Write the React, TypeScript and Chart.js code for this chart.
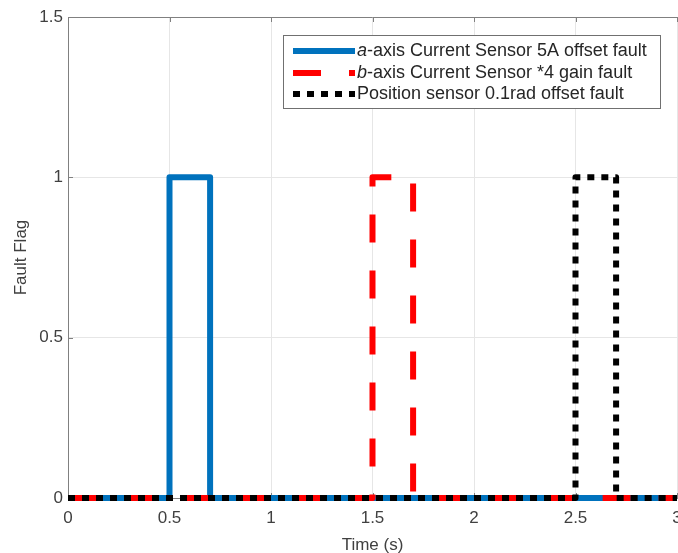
import React, { useEffect, useRef } from "react";
import { Chart, registerables } from "chart.js";

Chart.register(...registerables);

// ---- Data ----
const timeA = [0, 0.5, 0.5, 0.7, 0.7, 3];
const flagA = [0, 0, 1, 1, 0, 0];
const timeB = [0, 1.5, 1.5, 1.7, 1.7, 3];
const flagB = [0, 0, 1, 1, 0, 0];
const timeC = [0, 2.5, 2.5, 2.7, 2.7, 3];
const flagC = [0, 0, 1, 1, 0, 0];

const seriesNames = [
  ["a", "-axis Current Sensor 5A offset fault"],
  ["b", "-axis Current Sensor *4 gain fault"],
  ["", "Position sensor 0.1rad offset fault"],
];
const seriesColors = ["#0072BD", "#FF0000", "#000000"];
const seriesDashes: number[][] = [[], [28, 28], [7, 7]];

const xTickStep = 0.5;
const yTickStep = 0.5;
const xMin = 0, xMax = 3, yMin = 0, yMax = 1.5;

const FONT = "'Liberation Sans', Arial, Helvetica, sans-serif";
const LINE_W = 6;
const AXIS_COLOR = "#808080";
const TEXT_COLOR = "#404040";

const toPts = (xs: number[], ys: number[]) => xs.map((x, i) => ({ x, y: ys[i] }));
const fmt = (v: any) => String(Math.round(Number(v) * 100) / 100);

const boxPlugin = {
  id: "boxTicks",
  beforeDatasetsDraw(chart: any) {
    const { ctx, chartArea, scales } = chart;
    const { left, right, top, bottom } = chartArea;
    ctx.save();
    ctx.strokeStyle = AXIS_COLOR;
    ctx.lineWidth = 1;
    ctx.beginPath();
    ctx.moveTo(left, top + 0.5);
    ctx.lineTo(right, top + 0.5);
    const tl = 5;
    for (let v = xMin; v <= xMax + 1e-9; v += xTickStep) {
      const px = Math.round(scales.x.getPixelForValue(v)) + 0.5;
      ctx.moveTo(px, top);
      ctx.lineTo(px, top + tl);
      ctx.moveTo(px, bottom);
      ctx.lineTo(px, bottom - tl);
    }
    for (let v = yMin; v <= yMax + 1e-9; v += yTickStep) {
      const py = Math.round(scales.y.getPixelForValue(v)) + 0.5;
      ctx.moveTo(left, py);
      ctx.lineTo(left + tl, py);
    }
    ctx.stroke();
    ctx.restore();
  },
};

const legendPlugin = {
  id: "matlabLegend",
  afterDraw(chart: any) {
    const { ctx } = chart;
    const bx = 283.5, by = 35.5, bw = 377, bh = 73;
    ctx.save();
    ctx.fillStyle = "#ffffff";
    ctx.fillRect(bx, by, bw, bh);
    ctx.strokeStyle = "#707070";
    ctx.lineWidth = 1;
    ctx.strokeRect(bx, by, bw, bh);
    const rowsY = [51, 73, 94];
    for (let i = 0; i < seriesNames.length; i++) {
      const y = rowsY[i];
      ctx.save();
      ctx.strokeStyle = seriesColors[i];
      ctx.lineWidth = LINE_W;
      ctx.lineCap = "butt";
      ctx.setLineDash(seriesDashes[i]);
      ctx.beginPath();
      ctx.moveTo(293, y);
      ctx.lineTo(355, y);
      ctx.stroke();
      ctx.restore();
      ctx.fillStyle = "#262626";
      ctx.textBaseline = "middle";
      ctx.textAlign = "left";
      let x = 357;
      const [it, rest] = seriesNames[i];
      if (it) {
        ctx.font = `italic 18px ${FONT}`;
        ctx.fillText(it, x, y);
        x += ctx.measureText(it).width;
      }
      ctx.font = `18px ${FONT}`;
      ctx.fillText(rest, x, y);
    }
    ctx.restore();
  },
};

export default function App() {
  const ref = useRef<HTMLCanvasElement>(null);
  useEffect(() => {
    if (!ref.current) return;
    const common = {
      showLine: true,
      pointRadius: 0,
      borderWidth: LINE_W,
      borderJoinStyle: "round" as const,
      borderCapStyle: "butt" as const,
      tension: 0,
      fill: false,
      clip: 10,
    };
    const chart = new Chart(ref.current, {
      type: "scatter",
      data: {
        datasets: [
          { ...common, label: seriesNames[0].join(""), data: toPts(timeA, flagA), borderColor: seriesColors[0], backgroundColor: seriesColors[0], borderDash: seriesDashes[0], order: 3 },
          { ...common, label: seriesNames[1].join(""), data: toPts(timeB, flagB), borderColor: seriesColors[1], backgroundColor: seriesColors[1], borderDash: seriesDashes[1], order: 2 },
          { ...common, label: seriesNames[2].join(""), data: toPts(timeC, flagC), borderColor: seriesColors[2], backgroundColor: seriesColors[2], borderDash: seriesDashes[2], order: 1 },
        ],
      },
      options: {
        animation: false,
        responsive: false,
        devicePixelRatio: 1,
        layout: { padding: { top: 17, right: 1, left: 0, bottom: 0 } },
        plugins: { legend: { display: false }, tooltip: { enabled: false } },
        scales: {
          x: {
            type: "linear",
            min: xMin,
            max: xMax,
            ticks: { stepSize: xTickStep, color: TEXT_COLOR, font: { family: FONT, size: 17 }, padding: 10, maxRotation: 0, callback: fmt },
            grid: { color: "#e6e6e6", drawTicks: false },
            border: { color: AXIS_COLOR, width: 1 },
            title: { display: true, text: "Time (s)", color: TEXT_COLOR, font: { family: FONT, size: 17, lineHeight: 0.85 }, padding: { top: 0, bottom: 0 } },
            afterFit(scale: any) {
              scale.height = 55;
              scale.paddingLeft = 0;
              scale.paddingRight = 0;
            },
          },
          y: {
            type: "linear",
            min: yMin,
            max: yMax,
            ticks: { stepSize: yTickStep, color: TEXT_COLOR, font: { family: FONT, size: 17 }, padding: 5, callback: fmt },
            grid: { color: "#e6e6e6", drawTicks: false },
            border: { color: AXIS_COLOR, width: 1 },
            title: { display: true, text: "Fault Flag", color: TEXT_COLOR, font: { family: FONT, size: 17, lineHeight: 1 }, padding: { top: 13, bottom: 0 } },
            afterFit(scale: any) {
              scale.width = 68;
              scale.paddingTop = 0;
              scale.paddingBottom = 0;
            },
          },
        },
      },
      plugins: [boxPlugin, legendPlugin],
    });
    return () => chart.destroy();
  }, []);
  return (
    <div style={{ position: "fixed", left: 0, top: 0, width: 678, height: 553, background: "#fff" }}>
      <canvas ref={ref} width={678} height={553} style={{ display: "block" }} />
    </div>
  );
}
